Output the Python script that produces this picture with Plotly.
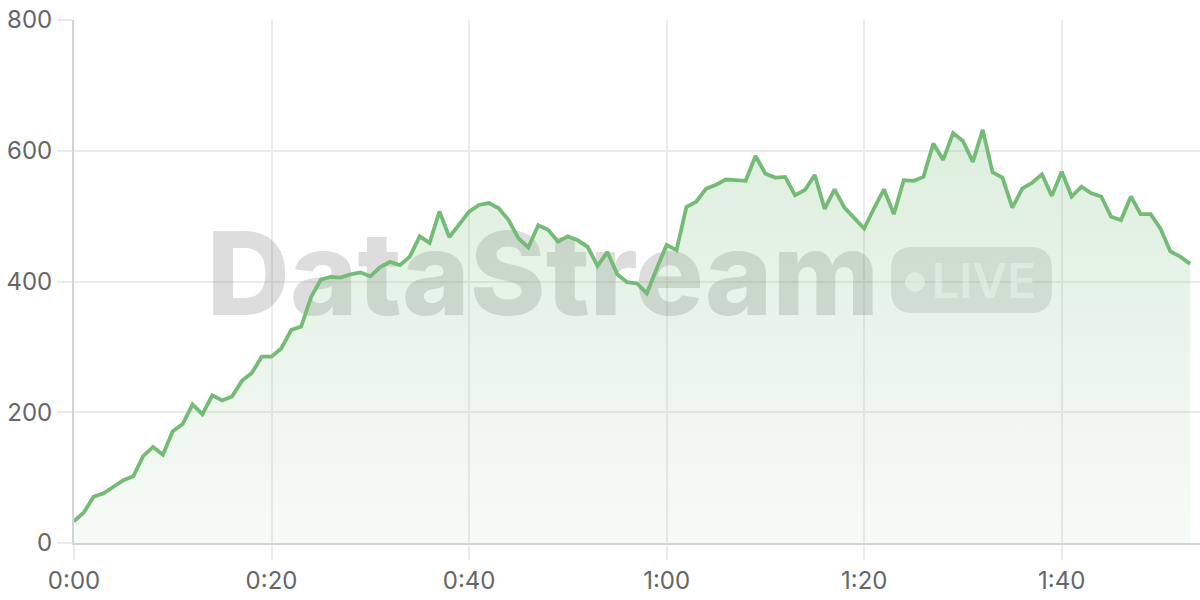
import plotly.graph_objects as go

# ---- data ----
seconds = list(range(114))
values = [33, 47, 71, 76, 86, 96, 102, 133, 147, 135,
          171, 182, 212, 197, 226, 218, 224, 248, 260, 285,
          285, 298, 326, 331, 376, 403, 407, 406, 411, 414,
          408, 422, 430, 425, 438, 469, 459, 507, 468, 487,
          507, 517, 520, 512, 494, 466, 452, 486, 479, 461,
          469, 463, 453, 424, 445, 411, 399, 397, 382, 420,
          456, 448, 514, 522, 542, 548, 556, 555, 554, 592,
          565, 559, 560, 532, 540, 563, 511, 541, 513, 497,
          481, 512, 541, 503, 555, 554, 560, 611, 586, 627,
          615, 583, 632, 567, 559, 513, 542, 551, 564, 531,
          568, 530, 545, 535, 530, 499, 494, 530, 503, 503,
          481, 446, 438, 427]
x_tick_vals = [0, 20, 40, 60, 80, 100]
x_tick_text = ["0:00", "0:20", "0:40", "1:00", "1:20", "1:40"]
y_tick_vals = [0, 200, 400, 600, 800]

# ---- layout geometry ----
W, H = 1200, 600
ML, MR, MT, MB = 74, 0, 20, 57
XR = [0, 114]
YR = [0, 800]
PW, PH = W - ML - MR, H - MT - MB


def px2x(px):
    return XR[0] + (px - ML) / PW * (XR[1] - XR[0])


def py2y(py):
    return YR[0] + (H - MB - py) / PH * (YR[1] - YR[0])


GREEN = "rgb(116,187,118)"
FONT = "Inter"
GRID = "#ebebeb"
TICKFONT = dict(family=FONT, size=24, color="#666666")

fig = go.Figure()

# watermark (drawn beneath the data)
fig.add_trace(go.Scatter(
    x=[px2x(543)], y=[py2y(286)], mode="text", text=["DataStream"],
    textfont=dict(family=FONT, size=115, color="rgba(128,128,128,0.27)", weight=800),
    hoverinfo="skip", showlegend=False))
fig.add_trace(go.Scatter(
    x=[px2x(915)], y=[py2y(282)], mode="markers",
    marker=dict(size=20, color="rgba(255,255,255,0.62)", line=dict(width=0)),
    hoverinfo="skip", showlegend=False))
fig.add_trace(go.Scatter(
    x=[px2x(984)], y=[py2y(286)], mode="text", text=["LIVE"],
    textfont=dict(family=FONT, size=48, color="rgba(255,255,255,0.62)", weight=600),
    hoverinfo="skip", showlegend=False))

# data series
fig.add_trace(go.Scatter(
    x=seconds, y=values, mode="lines",
    line=dict(color=GREEN, width=3.8, shape="linear"),
    fill="tozeroy",
    fillgradient=dict(type="vertical", start=0, stop=650,
                      colorscale=[[0, "rgba(116,187,118,0.06)"],
                                  [1, "rgba(116,187,118,0.25)"]]),
    hoverinfo="x+y", showlegend=False))

# LIVE pill (between grid and traces)
x0, x1 = px2x(891), px2x(1052)
y0, y1 = py2y(313), py2y(247)
rx = px2x(ML + 22) - px2x(ML)
ry = py2y(H - MB - 22) - py2y(H - MB)
path = (f"M {x0+rx},{y0} L {x1-rx},{y0} Q {x1},{y0} {x1},{y0+ry} "
        f"L {x1},{y1-ry} Q {x1},{y1} {x1-rx},{y1} L {x0+rx},{y1} "
        f"Q {x0},{y1} {x0},{y1-ry} L {x0},{y0+ry} Q {x0},{y0} {x0+rx},{y0} Z")
fig.add_shape(type="path", path=path, xref="x", yref="y", layer="between",
              fillcolor="rgba(120,120,120,0.2)", line=dict(width=0))

fig.update_layout(
    width=W, height=H,
    margin=dict(l=ML, r=MR, t=MT, b=MB, pad=0, autoexpand=False),
    paper_bgcolor="white", plot_bgcolor="white",
    font=dict(family=FONT, size=24, color="#666666"),
    showlegend=False,
    hovermode="closest",
)
fig.update_xaxes(
    range=XR, tickvals=x_tick_vals, ticktext=x_tick_text,
    showgrid=True, gridcolor=GRID, gridwidth=1.5,
    ticks="outside", ticklen=15, tickcolor=GRID, tickwidth=1.5,
    showline=True, linecolor="#d3d3d3", linewidth=2,
    zeroline=False, fixedrange=True, automargin=False,
    tickfont=TICKFONT,
)
fig.update_yaxes(
    range=YR, tickvals=y_tick_vals,
    showgrid=True, gridcolor=GRID, gridwidth=1.5,
    ticks="outside", ticklen=15, tickcolor=GRID, tickwidth=1.5,
    showline=True, linecolor="#d3d3d3", linewidth=2,
    zeroline=False, fixedrange=True, automargin=False,
    tickfont=TICKFONT,
)

fig.write_html(
    "out.html",
    config={"displayModeBar": False},
    post_script="document.body.style.margin='0';document.body.style.overflow='hidden';",
)
